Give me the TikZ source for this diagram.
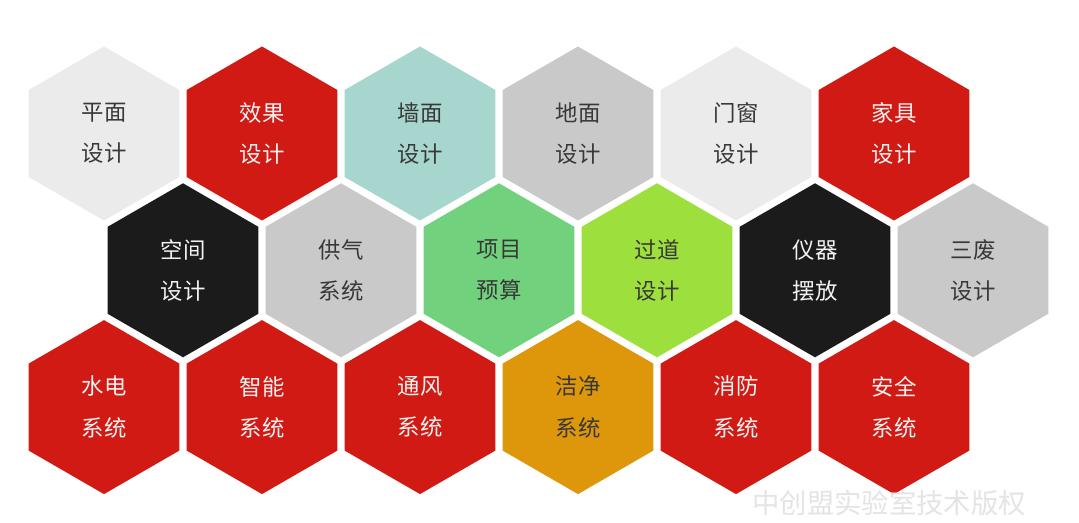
\documentclass[tikz,border=0pt]{standalone}
\usepackage{fontspec}
\newfontfamily\cjk{Noto Sans CJK SC}
\usetikzlibrary{shapes.geometric}
\definecolor{hlight}{HTML}{EBEBEB}
\definecolor{hgray}{HTML}{C9C9C9}
\definecolor{hred}{HTML}{D01A13}
\definecolor{hteal}{HTML}{A6D6CD}
\definecolor{hblack}{HTML}{1B1B1B}
\definecolor{hgreen}{HTML}{72D17C}
\definecolor{hlime}{HTML}{9DDF3C}
\definecolor{horange}{HTML}{DE970B}
\definecolor{tdark}{HTML}{383838}
\definecolor{tlight}{HTML}{F2F2F2}
\definecolor{wmark}{HTML}{E4E4E4}
\tikzset{
  hexcell/.style={regular polygon, regular polygon sides=6, shape border rotate=30,
    minimum size=130.5pt, inner sep=0pt, outer sep=0pt, draw=none,
    align=center, font=\cjk\fontsize{16.8}{31}\selectfont},
  ondark/.style={hexcell, text=tlight},
  onlight/.style={hexcell, text=tdark},
}
\begin{document}
\begin{tikzpicture}[x=0.75pt,y=-0.75pt]
\useasboundingbox[fill=white] (0,0) rectangle (1079,523);
% row 1
\node[onlight, fill=hlight]  (pm) at (104,133.5) {平面\\设计};
\node[ondark,  fill=hred]    (xg) at (262,133.5) {效果\\设计};
\node[onlight, fill=hteal]   (qm) at (420,133.5) {墙面\\设计};
\node[onlight, fill=hgray]   (dm) at (578,133.5) {地面\\设计};
\node[onlight, fill=hlight]  (mc) at (736,133.5) {门窗\\设计};
\node[ondark,  fill=hred]    (jj) at (894,133.5) {家具\\设计};
% row 2
\node[ondark,  fill=hblack]  (kj) at (183,270.3) {空间\\设计};
\node[onlight, fill=hgray]   (gq) at (341,270.3) {供气\\系统};
\node[onlight, fill=hgreen]  (xm) at (499,270.3) {项目\\预算};
\node[onlight, fill=hlime]   (gd) at (657,270.3) {过道\\设计};
\node[ondark,  fill=hblack]  (yq) at (815,270.3) {仪器\\摆放};
\node[onlight, fill=hgray]   (sf) at (973,270.3) {三废\\设计};
% row 3
\node[ondark,  fill=hred]    (sd) at (104,407.1) {水电\\系统};
\node[ondark,  fill=hred]    (zn) at (262,407.1) {智能\\系统};
\node[ondark,  fill=hred]    (tf) at (420,407.1) {通风\\系统};
\node[onlight, fill=horange] (jz) at (578,407.1) {洁净\\系统};
\node[ondark,  fill=hred]    (xf) at (736,407.1) {消防\\系统};
\node[ondark,  fill=hred]    (aq) at (894,407.1) {安全\\系统};
% watermark
\node[text=wmark, font=\cjk\fontsize{20.5}{24}\selectfont, inner sep=0pt] (wm) at (889,503) {中创盟实验室技术版权};
\end{tikzpicture}
\end{document}
